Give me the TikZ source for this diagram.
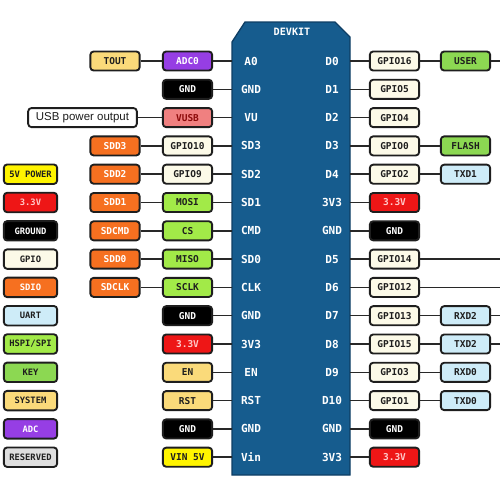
\documentclass[tikz,border=0pt]{standalone}
\usepackage{fontspec}
\setmainfont{DejaVu Sans Mono}
\newfontfamily\plainfont{Liberation Sans}
\definecolor{boardblue}{RGB}{22,92,142}
\definecolor{boardedge}{RGB}{14,62,100}
\definecolor{boxline}{RGB}{30,30,30}
\definecolor{wireline}{RGB}{40,40,40}
\definecolor{textdark}{RGB}{30,30,30}
\definecolor{adcpurple}{RGB}{150,62,228}
\definecolor{sysorange}{RGB}{250,218,122}
\definecolor{vusbpink}{RGB}{240,128,128}
\definecolor{vusbtext}{RGB}{140,10,10}
\definecolor{sdorange}{RGB}{246,112,32}
\definecolor{gpiocream}{RGB}{252,250,232}
\definecolor{spilime}{RGB}{162,234,72}
\definecolor{keygreen}{RGB}{140,216,82}
\definecolor{powred}{RGB}{238,22,22}
\definecolor{powtext}{RGB}{255,200,200}
\definecolor{vinyellow}{RGB}{255,244,0}
\definecolor{uartblue}{RGB}{206,236,248}
\definecolor{resgrey}{RGB}{222,222,222}

\tikzset{every picture/.style={line width=0.75pt}}
\tikzset{
  pinbox/.style={draw=boxline,line width=1.4pt,rounded corners=2.5pt,minimum width=37pt,minimum height=14.3pt,inner sep=0pt,text=textdark,font=\fontsize{7.1}{8}\selectfont\bfseries},
  legendbox/.style={pinbox,minimum width=40pt,minimum height=14.6pt,font=\fontsize{6.6}{7}\selectfont\bfseries},
  pinlabel/.style={text=white,inner sep=0.75pt,font=\fontsize{8.3}{9}\selectfont\bfseries},
  wire/.style={draw=wireline,line width=1.1pt},
  gndbox/.style={pinbox,fill=black,text=white},
  v33box/.style={pinbox,fill=powred,text=powtext},
  gpiobox/.style={pinbox,fill=gpiocream},
  sddbox/.style={pinbox,fill=sdorange,text=white},
  spibox/.style={pinbox,fill=spilime},
  uartbox/.style={pinbox,fill=uartblue}
}

\begin{document}
\begin{tikzpicture}[x=0.75pt,y=0.75pt,yscale=-1,xscale=1]
\useasboundingbox (0,0) rectangle (500,500);

%Shape: board
\draw [draw=boardedge,fill=boardblue,line width=1pt] (232,42) -- (245,22) -- (335,22) -- (350,37) -- (350,475) -- (232,475) -- cycle ;
\coordinate (boardL) at (232,250);
\coordinate (boardR) at (350,250);
\coordinate (edgeR) at (500,250);
\node [pinlabel,font=\fontsize{7.6}{9}\selectfont\bfseries] (devkit) at (292,32) {DEVKIT};

%Pins left side
\node [pinlabel] (pA0) at (251,61) {A0};
\node [pinlabel] (pGNDa) at (251,89.3) {GND};
\node [pinlabel] (pVU) at (251,117.6) {VU};
\node [pinlabel] (pSD3) at (251,145.9) {SD3};
\node [pinlabel] (pSD2) at (251,174.2) {SD2};
\node [pinlabel] (pSD1) at (251,202.5) {SD1};
\node [pinlabel] (pCMD) at (251,230.8) {CMD};
\node [pinlabel] (pSD0) at (251,259.1) {SD0};
\node [pinlabel] (pCLK) at (251,287.4) {CLK};
\node [pinlabel] (pGNDb) at (251,315.7) {GND};
\node [pinlabel] (p3V3a) at (251,344) {3V3};
\node [pinlabel] (pEN) at (251,372.3) {EN};
\node [pinlabel] (pRST) at (251,400.6) {RST};
\node [pinlabel] (pGNDc) at (251,428.9) {GND};
\node [pinlabel] (pVin) at (251,457.2) {Vin};

%Pins right side
\node [pinlabel] (pD0) at (332,61) {D0};
\node [pinlabel] (pD1) at (332,89.3) {D1};
\node [pinlabel] (pD2) at (332,117.6) {D2};
\node [pinlabel] (pD3) at (332,145.9) {D3};
\node [pinlabel] (pD4) at (332,174.2) {D4};
\node [pinlabel] (p3V3b) at (332,202.5) {3V3};
\node [pinlabel] (pGNDd) at (332,230.8) {GND};
\node [pinlabel] (pD5) at (332,259.1) {D5};
\node [pinlabel] (pD6) at (332,287.4) {D6};
\node [pinlabel] (pD7) at (332,315.7) {D7};
\node [pinlabel] (pD8) at (332,344) {D8};
\node [pinlabel] (pD9) at (332,372.3) {D9};
\node [pinlabel] (pD10) at (332,400.6) {D10};
\node [pinlabel] (pGNDe) at (332,428.9) {GND};
\node [pinlabel] (p3V3c) at (332,457.2) {3V3};

%Boxes left, inner column
\node [pinbox,fill=adcpurple,text=white] (adc0) at (187.5,61) {ADC0};
\node [gndbox] (gndL1) at (187.5,89.3) {GND};
\node [pinbox,fill=vusbpink,text=vusbtext] (vusb) at (187.5,117.6) {VUSB};
\node [gpiobox] (gpio10) at (187.5,145.9) {GPIO10};
\node [gpiobox] (gpio9) at (187.5,174.2) {GPIO9};
\node [spibox] (mosi) at (187.5,202.5) {MOSI};
\node [spibox] (cs) at (187.5,230.8) {CS};
\node [spibox] (miso) at (187.5,259.1) {MISO};
\node [spibox] (sclk) at (187.5,287.4) {SCLK};
\node [gndbox] (gndL2) at (187.5,315.7) {GND};
\node [v33box] (v33L) at (187.5,344) {3.3V};
\node [pinbox,fill=sysorange] (en) at (187.5,372.3) {EN};
\node [pinbox,fill=sysorange] (rst) at (187.5,400.6) {RST};
\node [gndbox] (gndL3) at (187.5,428.9) {GND};
\node [pinbox,fill=vinyellow] (vin) at (187.5,457.2) {VIN 5V};

%Boxes left, outer column
\node [pinbox,fill=sysorange] (tout) at (115,61) {TOUT};
\node [pinbox,fill=white,minimum width=81.5pt,font=\plainfont\fontsize{8.6}{10}\selectfont] (usbout) at (82.5,117.6) {USB power output};
\node [sddbox] (sdd3) at (115,145.9) {SDD3};
\node [sddbox] (sdd2) at (115,174.2) {SDD2};
\node [sddbox] (sdd1) at (115,202.5) {SDD1};
\node [sddbox] (sdcmd) at (115,230.8) {SDCMD};
\node [sddbox] (sdd0) at (115,259.1) {SDD0};
\node [sddbox] (sdclk) at (115,287.4) {SDCLK};

%Boxes right, inner column
\node [gpiobox] (gpio16) at (394.5,61) {GPIO16};
\node [gpiobox] (gpio5) at (394.5,89.3) {GPIO5};
\node [gpiobox] (gpio4) at (394.5,117.6) {GPIO4};
\node [gpiobox] (gpio0) at (394.5,145.9) {GPIO0};
\node [gpiobox] (gpio2) at (394.5,174.2) {GPIO2};
\node [v33box] (v33R1) at (394.5,202.5) {3.3V};
\node [gndbox] (gndR1) at (394.5,230.8) {GND};
\node [gpiobox] (gpio14) at (394.5,259.1) {GPIO14};
\node [gpiobox] (gpio12) at (394.5,287.4) {GPIO12};
\node [gpiobox] (gpio13) at (394.5,315.7) {GPIO13};
\node [gpiobox] (gpio15) at (394.5,344) {GPIO15};
\node [gpiobox] (gpio3) at (394.5,372.3) {GPIO3};
\node [gpiobox] (gpio1) at (394.5,400.6) {GPIO1};
\node [gndbox] (gndR2) at (394.5,428.9) {GND};
\node [v33box] (v33R2) at (394.5,457.2) {3.3V};

%Boxes right, outer column
\node [pinbox,fill=keygreen] (user) at (465.5,61) {USER};
\node [pinbox,fill=keygreen] (flash) at (465.5,145.9) {FLASH};
\node [uartbox] (txd1) at (465.5,174.2) {TXD1};
\node [uartbox] (rxd2) at (465.5,315.7) {RXD2};
\node [uartbox] (txd2) at (465.5,344) {TXD2};
\node [uartbox] (rxd0) at (465.5,372.3) {RXD0};
\node [uartbox] (txd0) at (465.5,400.6) {TXD0};

%Legend
\node [legendbox,fill=vinyellow] (lg5v) at (30.5,174.2) {5V POWER};
\node [legendbox,fill=powred,text=powtext] (lg33) at (30.5,202.5) {3.3V};
\node [legendbox,fill=black,text=white] (lggnd) at (30.5,230.8) {GROUND};
\node [legendbox,fill=gpiocream] (lggpio) at (30.5,259.1) {GPIO};
\node [legendbox,fill=sdorange,text=white] (lgsdio) at (30.5,287.4) {SDIO};
\node [legendbox,fill=uartblue] (lguart) at (30.5,315.7) {UART};
\node [legendbox,fill=spilime] (lgspi) at (30.5,344) {HSPI/SPI};
\node [legendbox,fill=keygreen] (lgkey) at (30.5,372.3) {KEY};
\node [legendbox,fill=sysorange] (lgsys) at (30.5,400.6) {SYSTEM};
\node [legendbox,fill=adcpurple,text=white] (lgadc) at (30.5,428.9) {ADC};
\node [legendbox,fill=resgrey] (lgres) at (30.5,457.2) {RESERVED};

%Wires left
\foreach \b in {adc0,gndL1,vusb,gpio10,gpio9,mosi,cs,miso,sclk,gndL2,v33L,en,rst,gndL3,vin}
  \draw [wire] (\b.east) -- (\b.east -| boardL) ;
\draw [wire] (tout) -- (adc0) ;
\draw [wire] (usbout) -- (vusb) ;
\draw [wire] (sdd3) -- (gpio10) ;
\draw [wire] (sdd2) -- (gpio9) ;
\draw [wire] (sdd1) -- (mosi) ;
\draw [wire] (sdcmd) -- (cs) ;
\draw [wire] (sdd0) -- (miso) ;
\draw [wire] (sdclk) -- (sclk) ;

%Wires right
\foreach \b in {gpio16,gpio5,gpio4,gpio0,gpio2,v33R1,gndR1,gpio14,gpio12,gpio13,gpio15,gpio3,gpio1,gndR2,v33R2}
  \draw [wire] (\b.west -| boardR) -- (\b.west) ;
\draw [wire] (gpio16) -- (user) ;
\draw [wire] (gpio0) -- (flash) ;
\draw [wire] (gpio2) -- (txd1) ;
\draw [wire] (gpio13) -- (rxd2) ;
\draw [wire] (gpio15) -- (txd2) ;
\draw [wire] (gpio3) -- (rxd0) ;
\draw [wire] (gpio1) -- (txd0) ;
\draw [wire] (gpio14.east) -- (gpio14.east -| edgeR) ;
\draw [wire] (gpio12.east) -- (gpio12.east -| edgeR) ;
\draw [wire] (user.east) -- (user.east -| edgeR) ;
\draw [wire] (rxd2.east) -- (rxd2.east -| edgeR) ;
\draw [wire] (txd2.east) -- (txd2.east -| edgeR) ;

\end{tikzpicture}
\end{document}
